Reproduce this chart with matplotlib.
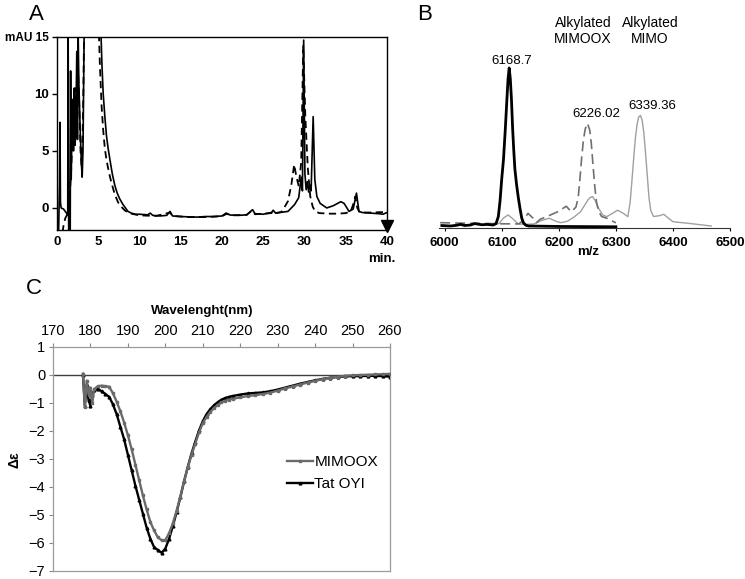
import matplotlib
matplotlib.use('Agg')
import matplotlib.pyplot as plt

plt.rcParams['font.family'] = ['Liberation Sans', 'DejaVu Sans']

W, H = 745, 579

# Panel A: HPLC chromatogram (time in min, absorbance in mAU)
a_solid_t = [0.0, 0.2, 0.3, 0.36, 0.42, 0.5, 0.8, 1.0, 1.2, 1.3, 1.35, 1.42, 1.6, 1.65, 1.72,
             1.8, 1.9, 2.0, 2.1, 2.2, 2.3, 2.4, 2.48, 2.55, 2.65, 2.8, 2.95, 3.05, 3.15, 3.3,
             5.3, 5.45, 5.6, 5.8, 6.0, 6.2, 6.4, 6.7, 7.0, 7.3, 7.6, 8.0, 8.3, 8.6, 9.0, 9.5,
             10.0, 11.0, 11.3, 11.6, 12.5, 13.3, 13.7, 14.0, 15.0, 16.0, 17.0, 18.0, 19.0,
             20.0, 20.5, 21.0, 22.0, 23.0, 23.7, 24.0, 25.0, 26.0, 26.2, 26.5, 27.0, 28.0,
             28.8, 29.3, 29.6, 29.75, 29.9, 30.05, 30.2, 30.35, 30.5, 30.65, 30.8, 31.05,
             31.25, 31.5, 31.9, 32.7, 33.5, 34.4, 34.8, 35.4, 35.9, 36.3, 36.6, 37.0, 38.0,
             39.0, 39.5, 40.0]
a_solid_v = [-1.0, -1.9, 2.0, 7.5, 0.5, 0.0, -0.1, -0.3, -0.5, -0.6, 16.0, -3.0, -3.0, 12.0, 2.5,
             6.0, 9.5, 5.0, 10.5, 5.5, 8.0, 13.7, 6.0, 16.0, 11.0, 7.0, 4.0, 2.7, 5.0, 16.0,
             16.0, 12.5, 10.0, 8.0, 6.3, 5.2, 4.3, 3.0, 2.0, 1.3, 0.8, 0.3, 0.0, -0.3, -0.45, -0.55,
             -0.55, -0.6, -0.45, -0.65, -0.7, -0.65, -0.3, -0.7, -0.75, -0.78, -0.8, -0.75, -0.75,
             -0.7, -0.45, -0.62, -0.65, -0.6, -0.15, -0.5, -0.55, -0.4, -0.2, -0.45, -0.4, -0.3,
             0.3, 0.9, 2.7, 1.5, 14.7, 3.0, 1.6, 2.3, 1.4, 2.0, 1.5, 8.0,
             2.5, 1.0, 0.4, 0.0, 0.2, 0.55, 0.4, -0.3, -0.1, 1.3, -0.3, -0.4, -0.45,
             -0.5, -0.55, -0.4]

a_dash_t = [0.0, 0.6, 0.8, 1.0, 1.3, 1.5, 1.7, 1.85, 2.0, 2.1, 2.25, 2.4, 2.55, 2.7, 2.85, 3.0,
            3.15, 3.3, 5.05, 5.2, 5.4, 5.6, 5.8, 6.0, 6.3, 6.6, 7.0, 7.4, 7.8, 8.2, 8.6, 9.0,
            10.0, 12.0, 13.7, 14.0, 16.0, 18.0, 20.0, 20.6, 21.0, 23.0, 23.6, 24.0, 26.0, 26.1,
            26.5, 27.2, 27.6, 28.0, 28.4, 28.75, 29.0, 29.3, 29.6, 29.85, 30.1, 30.4, 30.7,
            31.0, 31.3, 31.8, 33.0, 34.0, 35.0, 35.6, 35.9, 36.15, 36.4, 36.7, 38.0, 40.0]
a_dash_v = [-3.0, -2.5, -1.5, -0.9, -0.5, 0.5, 3.0, 6.0, 9.5, 7.0, 10.5, 8.0, 12.0, 9.0, 5.0, 3.5,
            8.0, 16.0, 16.0, 12.5, 9.0, 6.8, 5.2, 4.2, 3.1, 2.2, 1.2, 0.5, 0.1, -0.2, -0.4, -0.5,
            -0.65, -0.7, -0.4, -0.7, -0.8, -0.8, -0.72, -0.5, -0.65, -0.6, -0.25, -0.55, -0.45, -0.3,
            -0.45, -0.35, 0.1, 0.6, 2.0, 3.8, 2.8, 1.9, 4.0, 14.2, 8.0, 3.5, 1.0,
            0.1, -0.3, -0.45, -0.5, -0.5, -0.45, -0.3, 0.3, 1.0, 0.0, -0.4, -0.4, -0.35]

a_xticks = [0, 5, 10, 15, 20, 25, 30, 35, 40]
a_yticks = [0, 5, 10, 15]
a_ylabels = ['0', '5', '10', 'mAU 15']

# Panel B: mass spectra (m/z, relative intensity)
b_black_mz = [5995, 6010, 6020, 6028, 6035, 6045, 6052, 6058, 6065, 6075, 6085, 6090, 6094,
              6097, 6100, 6103, 6106, 6109, 6111, 6113, 6115, 6117, 6119, 6121, 6123, 6126,
              6129, 6132, 6135, 6138, 6142, 6147, 6200, 6300]
b_black_i = [0.3, 0.0, 0.4, 1.0, 0.3, 0.6, 1.5, 1.2, 0.8, 1.0, 0.6, 1.5, 6,
             16, 30, 42, 60, 80, 93, 100, 93, 80, 62, 48, 36, 26,
             18, 11, 5, 2, 0.5, 0.0, -0.3, -0.5]

b_mimo_mz = [6080, 6095, 6103, 6111, 6118, 6129, 6140, 6156, 6170, 6183, 6195, 6203, 6215, 6226,
             6238, 6245, 6251, 6255, 6259, 6264, 6270, 6277, 6284, 6294, 6303, 6313, 6321,
             6325, 6328, 6331, 6334, 6337, 6340, 6343, 6346, 6349, 6352, 6355, 6358, 6361,
             6366, 6376, 6384, 6392, 6400, 6427, 6467]
b_mimo_i = [0.5, 1.5, 5.0, 7.0, 5.0, 1.3, 1.0, 1.3, 3.5, 4.9, 3.0, 2.1, 3.0, 5.5,
            9.0, 13.0, 16.5, 18.0, 18.6, 16.0, 11.0, 7.0, 5.9, 8.0, 10.0, 8.0, 5.9,
            15.0, 28.0, 42.0, 55.0, 64.0, 69.0, 70.0, 67.0, 59.0, 46.0, 32.0, 18.0, 10.0,
            6.0, 6.5, 7.4, 5.0, 2.7, 1.7, 0.0]

b_mimoox_mz = [5992, 6030, 6070, 6100, 6130, 6138, 6146, 6155, 6161, 6167, 6181, 6198, 6213,
               6222, 6230, 6234, 6237, 6240, 6243, 6246, 6250, 6254, 6257, 6260, 6263, 6266,
               6270, 6275, 6284, 6300]
b_mimoox_i = [2.1, 1.8, 1.6, 1.4, 1.3, 3.8, 8.0, 4.9, 2.1, 4.2, 6.3, 9.0, 12.5,
              9.0, 12.0, 18.0, 30.0, 43.0, 54.0, 61.0, 65.0, 61.0, 52.0, 38.0, 25.0, 15.0,
              9.0, 6.0, 4.9, 2.0]

b_xticks = [6000, 6100, 6200, 6300, 6400, 6500]

# Panel C: CD spectra (wavelength nm, delta epsilon)
c_wl = [178, 178.5, 179, 179.5, 180, 180.5, 181, 182, 183, 184, 185, 186, 187, 188, 189, 190,
        191, 192, 193, 194, 195, 196, 197, 198, 199, 200, 201, 202, 203, 204, 205, 206, 207,
        208, 209, 210, 211, 212, 213, 214, 215, 216, 217, 218, 220, 222, 224, 226, 228, 230,
        232, 234, 236, 238, 240, 242, 244, 246, 248, 250, 252, 254, 256, 258, 260]
c_tat = [0.0, -1.1, -0.35, -0.9, -1.1, -0.7, -0.55, -0.5, -0.58, -0.68, -0.78, -1.05, -1.4,
         -1.85, -2.3, -2.85, -3.4, -3.95, -4.45, -4.95, -5.45, -5.85, -6.15, -6.25, -6.35,
         -6.2, -5.85, -5.4, -4.9, -4.37, -3.8, -3.28, -2.8, -2.38, -1.98, -1.65, -1.4, -1.22,
         -1.08, -0.97, -0.88, -0.82, -0.78, -0.75, -0.7, -0.66, -0.64, -0.62, -0.58, -0.52,
         -0.45, -0.38, -0.31, -0.25, -0.19, -0.14, -0.1, -0.07, -0.05, -0.04, -0.04, -0.03,
         -0.03, -0.04, -0.06]
c_mimoox = [0.05, -1.15, -0.2, -0.7, -0.45, -1.0, -0.5, -0.4, -0.38, -0.4, -0.42, -0.65, -0.95,
            -1.3, -1.7, -2.15, -2.65, -3.2, -3.75, -4.3, -4.8, -5.25, -5.55, -5.8, -5.9,
            -5.9, -5.65, -5.3, -4.85, -4.35, -3.8, -3.3, -2.85, -2.45, -2.05, -1.72, -1.5, -1.32,
            -1.18, -1.07, -0.98, -0.92, -0.88, -0.85, -0.8, -0.75, -0.72, -0.68, -0.63, -0.56,
            -0.48, -0.41, -0.34, -0.27, -0.21, -0.15, -0.1, -0.06, -0.03, -0.01, 0.0, 0.01,
            0.02, 0.03, 0.04]
c_xticks = list(range(170, 261, 10))
c_yticks = list(range(-7, 2))

fig = plt.figure(figsize=(W / 100, H / 100), dpi=100)

# ---- A ----
axA = fig.add_axes([57 / W, 1 - 230 / H, 330 / W, (230 - 36.7) / H])
axA.plot(a_solid_t, a_solid_v, color='black', lw=1.2)
axA.plot(a_dash_t, a_dash_v, color='black', lw=1.3, dashes=(4, 2.5))
axA.plot([40], [-1.57], marker='v', color='black', ms=8, clip_on=False)
axA.set_xlim(0, 40)
axA.set_ylim(-1.93, 15)
axA.set_xticks(a_xticks)
axA.set_yticks(a_yticks)
axA.set_yticklabels(a_ylabels)
axA.tick_params(axis='x', length=0, pad=4.5, labelsize=9.5)
axA.tick_params(axis='y', length=3.5, pad=2, labelsize=9.5, width=1)
for lab in axA.get_xticklabels() + axA.get_yticklabels():
    lab.set_fontweight('bold')
axA.get_yticklabels()[-1].set_fontsize(8.5)
for sp in axA.spines.values():
    sp.set_linewidth(1.0)
fig.text(382 / W, 1 - 259 / H, 'min.', fontsize=9.5, fontweight='bold', ha='center', va='center')

# ---- B ----
axB = fig.add_axes([439 / W, 1 - 228 / H, (730 - 439) / W, (228 - 40) / H])
axB.plot(b_mimo_mz, b_mimo_i, color='#a0a0a0', lw=1.0)
axB.plot(b_mimoox_mz, b_mimoox_i, color='#707070', lw=1.2, dashes=(6, 3))
axB.plot(b_black_mz, b_black_i, color='black', lw=2.0)
axB.set_xlim(5990, 6500)
axB.set_ylim(-1.27, 117.7)
axB.set_xticks(b_xticks)
axB.set_yticks([])
for s in ['left', 'right', 'top']:
    axB.spines[s].set_visible(False)
axB.spines['bottom'].set_color('#333333')
axB.tick_params(axis='x', length=2.5, pad=4, labelsize=9.5, colors='black')
for lab in axB.get_xticklabels():
    lab.set_fontweight('bold')
fig.text(588 / W, 1 - 252 / H, 'm/z', fontsize=9.5, fontweight='bold', ha='center', va='center')
fig.text(512 / W, 1 - 61 / H, '6168.7', fontsize=9.5, ha='center', va='center')
fig.text(596.5 / W, 1 - 114 / H, '6226.02', fontsize=9.5, ha='center', va='center')
fig.text(652 / W, 1 - 106 / H, '6339.36', fontsize=9.5, ha='center', va='center')
narrow = ['Liberation Sans Narrow', 'Liberation Sans', 'DejaVu Sans']
fig.text(583 / W, 1 - 31 / H, 'Alkylated\nMIMOOX', fontsize=10, family=narrow,
         ha='center', va='center', linespacing=1.25)
fig.text(650 / W, 1 - 31 / H, 'Alkylated\nMIMO', fontsize=10, family=narrow,
         ha='center', va='center', linespacing=1.25)

# ---- C ----
axC = fig.add_axes([53 / W, 1 - 571 / H, 337 / W, (571 - 347) / H])
axC.axhline(0, color='#404040', lw=1.0, zorder=1)
axC.plot(c_wl, c_mimoox, color='#6a6a6a', lw=1.7, marker='s', ms=2.0, label='MIMOOX', zorder=3)
axC.plot(c_wl, c_tat, color='black', lw=1.7, marker='^', ms=2.0, label='Tat OYI', zorder=2)
axC.set_xlim(170, 260)
axC.set_ylim(-7, 1)
axC.xaxis.tick_top()
axC.set_xticks(c_xticks)
axC.set_yticks(c_yticks)
axC.tick_params(axis='x', length=3, pad=3.5, labelsize=10.5, color='#888888')
axC.tick_params(axis='y', length=3, pad=2.5, labelsize=10.5, color='#888888')
for sp in axC.spines.values():
    sp.set_color('#9a9a9a')
    sp.set_linewidth(0.9)
axC.legend(loc='center left', bbox_to_anchor=(287 / W, 1 - 473.3 / H),
           bbox_transform=fig.transFigure, frameon=False, fontsize=11,
           handlelength=1.7, handletextpad=0.1, borderpad=0, borderaxespad=0,
           labelspacing=0.5)
fig.text(202.5 / W, 1 - 311 / H, 'Wavelenght(nm)', fontsize=9.5, fontweight='bold',
         ha='center', va='center')
fig.text(15 / W, 1 - 460 / H, 'Δε', fontsize=10, fontweight='bold', rotation=90,
         ha='center', va='center')

# panel letters
fig.text(36 / W, 1 - 15 / H, 'A', fontsize=16, ha='center', va='center')
fig.text(425 / W, 1 - 15 / H, 'B', fontsize=16, ha='center', va='center')
fig.text(34 / W, 1 - 288 / H, 'C', fontsize=16, ha='center', va='center')

fig.savefig('out.png', dpi=100)
